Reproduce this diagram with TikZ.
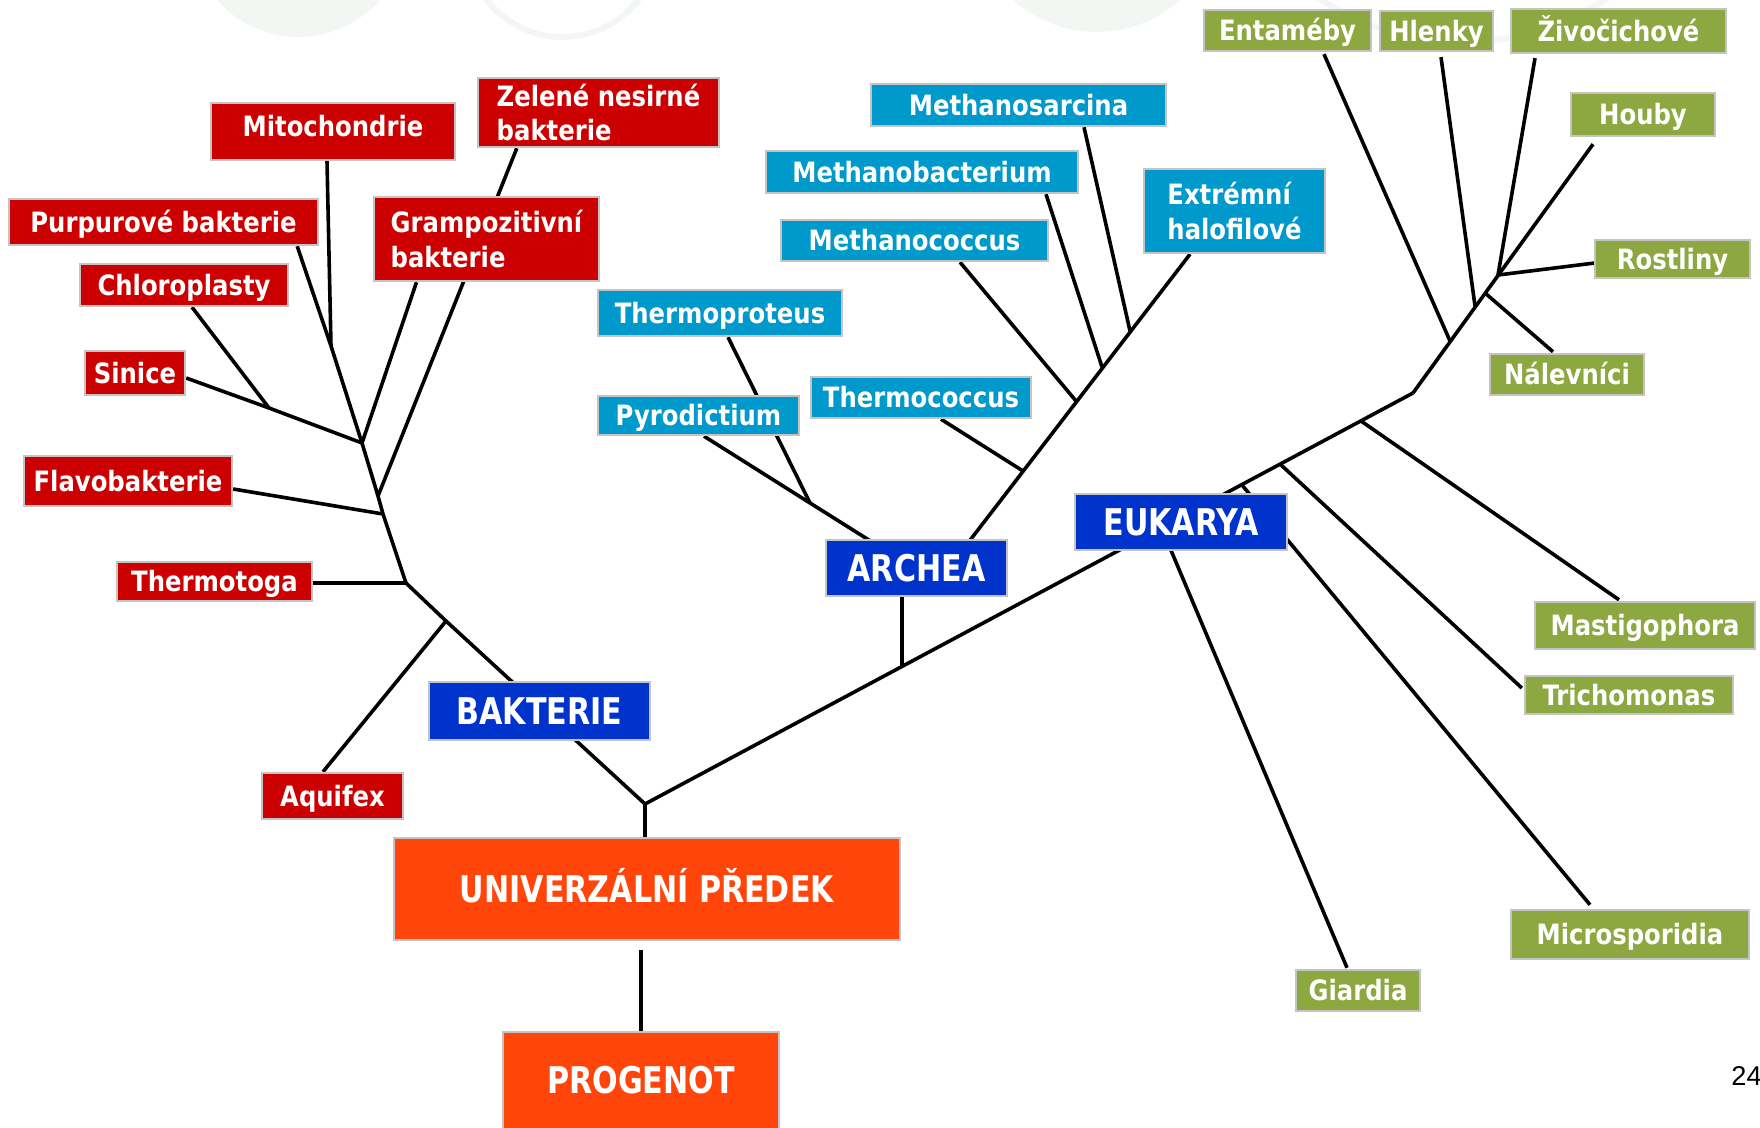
\documentclass[tikz,border=0pt]{standalone}
\usepackage{fontspec}
\newfontfamily\labfont{DejaVu Sans Condensed}[FakeStretch=0.965]
\newfontfamily\bigfont{DejaVu Sans Condensed}[FakeStretch=0.91]
\newfontfamily\numfont{Liberation Sans}
\usetikzlibrary{calc,backgrounds}
\definecolor{bred}{HTML}{CC0000}
\definecolor{ablue}{HTML}{0099CC}
\definecolor{dblue}{HTML}{0033CC}
\definecolor{orng}{HTML}{FF450A}
\definecolor{egreen}{HTML}{8EA841}
\definecolor{bord}{HTML}{C4C4C4}
\definecolor{faint}{HTML}{F3F7F3}
\tikzset{
  box/.style={draw=bord, line width=1.2pt, text=white, inner sep=0pt,
    font=\labfont\bfseries\fontsize{14}{17.25}\selectfont},
  wh/.style 2 args={minimum width=#1*0.5pt, minimum height=#2*0.5pt},
  one/.style={text height=10.2pt, text depth=0pt},
  big/.style={font=\bigfont\bfseries\fontsize{18.4}{22}\selectfont, text height=13.4pt, text depth=0pt},
  bac/.style={box, fill=bred},
  archbox/.style={box, fill=ablue},
  grp/.style={box, fill=dblue, big},
  anc/.style={box, fill=orng, big},
  euk/.style={box, fill=egreen},
  br/.style={line width=1.8pt, black, line join=round},
}
\begin{document}
\begin{tikzpicture}[x=0.5pt,y=-0.5pt]
\useasboundingbox (0,0) rectangle (1760,1128);
% junction points
\coordinate (root) at (645,804);
\coordinate (b1) at (446,621);
\coordinate (b2) at (406,583);
\coordinate (b3) at (383,514);
\coordinate (gj) at (378,496);
\coordinate (b4) at (362,443);
\coordinate (b5) at (331,346);
\coordinate (sj) at (269,408);
\coordinate (aj) at (902,666.5);
\coordinate (ahid) at (916,568);
\coordinate (abend) at (966,545.5);
\coordinate (t1) at (1023,471);
\coordinate (t2) at (1076,401);
\coordinate (t3) at (1102,367);
\coordinate (t4) at (1130,331);
\coordinate (pj) at (810,503);
\coordinate (pin) at (880,547);
\coordinate (ej) at (1413,393);
\coordinate (e1) at (1450,341);
\coordinate (e2) at (1475,306);
\coordinate (e3) at (1498,275);
\coordinate (en) at (1485,293);
\coordinate (mj) at (1361,421);
\coordinate (tj) at (1280,464);
\coordinate (mij) at (1242,485);
\coordinate (gij) at (1162,529);

% Bacteria
\node[bac, one, text depth=5.5pt, wh={244}{57}] (mito) at (333,131.5) {Mitochondrie};
\node[bac, wh={241}{69}, align=left] (zel) at (598.5,112.5) {Zelené nesirné\\bakterie};
\node[bac, one, wh={309}{46}] (purp) at (163.5,222) {Purpurové bakterie};
\node[bac, wh={225}{84}, align=left] (gram) at (486.5,239) {Grampozitivní\\bakterie};
\node[bac, one, wh={208}{42}] (chloro) at (184,285) {Chloroplasty};
\node[bac, one, wh={100}{44}] (sinice) at (135,373) {Sinice};
\node[bac, one, wh={208}{50}] (flavo) at (128,481) {Flavobakterie};
\node[bac, one, wh={195}{39}] (thermotoga) at (214.5,581.5) {Thermotoga};
\node[bac, one, wh={141}{46}] (aquifex) at (332.5,796) {Aquifex};
% groups
\node[grp, wh={221}{58}] (bakterie) at (539.5,711) {BAKTERIE};
\node[grp, wh={181}{56}] (archea) at (916.5,568) {ARCHEA};
\node[grp, wh={212}{56}] (eukarya) at (1181,522) {EUKARYA};
\node[anc, wh={506}{102}] (univ) at (647,889) {UNIVERZÁLNÍ PŘEDEK};
\node[anc, wh={276}{110}, text depth=7pt] (progenot) at (641,1087) {PROGENOT};
% Archea
\node[archbox, one, wh={295}{42}] (msarc) at (1018.5,105) {Methanosarcina};
\node[archbox, one, wh={312}{42}] (mbact) at (922,172) {Methanobacterium};
\node[archbox, one, wh={267}{41}] (mcocc) at (914.5,240.5) {Methanococcus};
\node[archbox, wh={181}{84}, align=left] (extr) at (1234.5,211) {Extrémní\\halofilové};
\node[archbox, one, wh={244}{46}] (tproteus) at (720,313) {Thermoproteus};
\node[archbox, one, wh={201}{39}] (pyro) at (698.5,415.5) {Pyrodictium};
\node[archbox, one, wh={220}{41}] (tcocc) at (921,397.5) {Thermococcus};
% Eukarya
\node[euk, one, wh={167}{41}] (entam) at (1287.5,30.5) {Entaméby};
\node[euk, one, wh={113}{40}] (hlenky) at (1436.5,31) {Hlenky};
\node[euk, one, wh={215}{44}] (zivo) at (1618.5,31) {Živočichové};
\node[euk, one, wh={144}{43}] (houby) at (1643,114.5) {Houby};
\node[euk, one, wh={155}{38}] (rostliny) at (1672.5,259) {Rostliny};
\node[euk, one, wh={154}{41}] (nalev) at (1567,374.5) {Nálevníci};
\node[euk, one, wh={220}{47}] (mastig) at (1645,625.5) {Mastigophora};
\node[euk, one, wh={208}{38}] (tricho) at (1629,695) {Trichomonas};
\node[euk, one, wh={238}{49}] (micro) at (1630,934.5) {Microsporidia};
\node[euk, one, wh={124}{41}] (giardia) at (1358,990.5) {Giardia};

\node[font=\numfont\fontsize{13.6}{16}\selectfont, anchor=base west, inner sep=0pt] (pg) at (1731,1085) {24};

\begin{scope}[on background layer]
  \fill[faint] (298.5,-71) circle (54pt);
  \draw[faint, line width=3pt] (562.5,-59) circle (48pt);
  \fill[faint] (1096.5,-93) circle (62.5pt);
  \draw[faint, line width=3pt] (1463,-217) circle (129.5pt);
  % bacteria
  \draw[br] (root) -- (root |- univ.north);
  \draw[br] ($(univ.south)+(-6,9)$) -- (progenot.north);
  \draw[br] (root) -- (b1) -- (b2);
  \draw[br] (b1) -- ($(aquifex.north)+(-9.5,0)$);
  \draw[br] (b2) -- (thermotoga.east |- b2);
  \draw[br] (b2) -- (b3) -- (gj) -- (b4) -- (b5) -- ($(purp.south east)+(-22,0)$);
  \draw[br] (b3) -- ($(flavo.east)+(0,8)$);
  \draw[br] (b5) -- ($(mito.south)+(-6,0)$);
  \draw[br] (b4) -- (sj) -- ($(sinice.east)+(0,5)$);
  \draw[br] (sj) -- ($(chloro.south)+(8,0)$);
  \draw[br] (b4) -- ($(gram.south)+(-70,0)$);
  \draw[br] (gj) -- ($(zel.south west)+(40,0)$);
  % archea
  \draw[br] (root) -- (ej);
  \draw[br] (aj) -- ($(archea.south)+(-14.5,0)$);
  \draw[br] (ahid) -- (abend) -- ($(extr.south)+(-44.5,0)$);
  \draw[br] ($(pyro.south)+(5.5,0)$) -- (pj) -- (pin) -- (ahid);
  \draw[br] (pj) -- ($(tproteus.south)+(8,0)$);
  \draw[br] (t1) -- ($(tcocc.south)+(20,0)$);
  \draw[br] (t2) -- ($(mcocc.south)+(45.5,0)$);
  \draw[br] (t3) -- ($(mbact.south)+(124,0)$);
  \draw[br] (t4) -- ($(msarc.south)+(65.5,0)$);
  % eukarya
  \draw[br] (ej) -- ($(houby.south)+(-50,7)$);
  \draw[br] (e1) -- ($(entam.south)+(36.5,2)$);
  \draw[br] (e2) -- ($(hlenky.south)+(4.5,5)$);
  \draw[br] (e3) -- ($(zivo.south)+(-83.5,4)$);
  \draw[br] (e3) -- ($(rostliny.west)+(1,4)$);
  \draw[br] (en) -- ($(nalev.north)+(-14,-1)$);
  \draw[br] (mj) -- ($(mastig.north)+(-26,-1)$);
  \draw[br] (tj) -- ($(tricho.west)+(-2,-7)$);
  \draw[br] (mij) -- ($(micro.north)+(-40,-4)$);
  \draw[br] (gij) -- ($(giardia.north)+(-11,-1)$);
\end{scope}
\end{tikzpicture}
\end{document}
